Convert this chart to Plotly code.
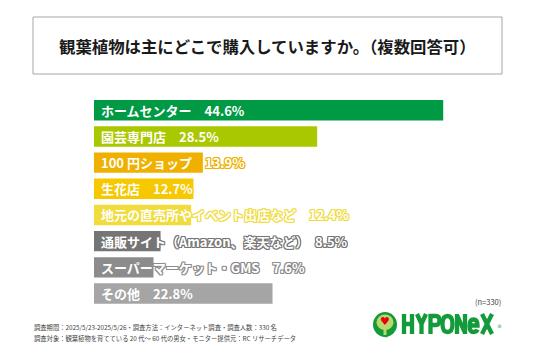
import plotly.graph_objects as go

categories = [
    "ホームセンター",
    "園芸専門店",
    "100 円ショップ",
    "生花店",
    "地元の直売所やイベント出店など",
    "通販サイト（Amazon、楽天など）",
    "スーパーマーケット・GMS",
    "その他",
]
values = [44.6, 28.5, 13.9, 12.7, 12.4, 8.5, 7.6, 22.8]
bar_colors = ["#009944", "#aac800", "#f0b000", "#f5c800", "#f0dc3c",
              "#757575", "#8c8c8c", "#a5a5a5"]

title_text = "観葉植物は主にどこで購入していますか。（複数回答可）"
n_text = "(n=330)"
note_lines = [
    "調査期間：2025/5/23-2025/5/26・調査方法：インターネット調査・調査人数：330 名",
    "調査対象：観葉植物を育てている 20 代～ 60 代の男女・モニター提供元：RC リサーチデータ",
]

# page has an 8px body margin; figure is sized to fit the window exactly
OFF = 8
W, H = 536 - 2 * OFF, 357 - 2 * OFF
def px(x):
    return (x - OFF) / W
def py(y):
    return 1 - (y - OFF) / H

JP = "Noto Sans CJK JP, Noto Sans, sans-serif"
GREEN = "#139a3a"

fig = go.Figure()
fig.add_trace(go.Bar(
    x=values, y=categories, orientation="h",
    marker=dict(color=bar_colors, line=dict(width=0)),
    hoverinfo="skip", showlegend=False,
))

def outline(c, w=1):
    parts = []
    for dx in (-w, 0, w):
        for dy in (-w, 0, w):
            if dx == 0 and dy == 0:
                continue
            parts.append(f"{dx}px {dy}px 0 {c}")
    return ", ".join(parts)

annotations = []
for cat, val, col in zip(categories, values, bar_colors):
    annotations.append(dict(
        x=0, y=cat, xref="x", yref="y", xanchor="left", yanchor="middle",
        xshift=5, showarrow=False,
        text=f"{cat}\u3000{val}%",
        font=dict(family=JP, size=13, color="white", weight="bold",
                  shadow=outline(col)),
    ))

annotations.append(dict(
    x=px(267.5), y=py(46), xref="paper", yref="paper", xanchor="center",
    yanchor="middle", showarrow=False, text=title_text,
    font=dict(family=JP, size=16.4, color="#1a1a1a", weight="bold"),
))
annotations.append(dict(
    x=px(503), y=py(301), xref="paper", yref="paper", xanchor="right",
    yanchor="middle", showarrow=False, text=n_text,
    font=dict(family=JP, size=7.5, color="#444444"),
))
for i, line in enumerate(note_lines):
    annotations.append(dict(
        x=px(32), y=py(327 + 11 * i), xref="paper", yref="paper",
        xanchor="left", yanchor="middle", showarrow=False, text=line,
        font=dict(family=JP, size=6.3, color="#444444"),
    ))
annotations.append(dict(
    x=px(499), y=py(326), xref="paper", yref="paper", xanchor="center",
    yanchor="middle", showarrow=False, text="®",
    font=dict(family="DejaVu Sans", size=5, color=GREEN),
))
annotations.append(dict(
    x=px(386), y=py(336), xref="paper", yref="paper", xanchor="center",
    yanchor="middle", showarrow=False, text="®",
    font=dict(family="DejaVu Sans", size=4, color=GREEN),
))
annotations.append(dict(
    x=px(385), y=py(321.5), xref="paper", yref="paper", xanchor="center",
    yanchor="middle", showarrow=False, text="♥",
    font=dict(family="DejaVu Sans", size=11, color="#e60012"),
))

def P(x, y):
    return f"{px(x):.5f},{py(y):.5f}"

def stroke_path(d, w=4):
    return dict(type="path", xref="paper", yref="paper", path=d,
                line=dict(color=GREEN, width=w), fillcolor="rgba(0,0,0,0)")

# logo lettering "HYPONeX" drawn as strokes
letters = [
    # H
    f"M{P(404,314)} L{P(404,334)} M{P(412,314)} L{P(412,334)} M{P(404,324)} L{P(412,324)}",
    # Y
    f"M{P(417,314)} L{P(421.5,324)} L{P(426,314)} M{P(421.5,323)} L{P(421.5,334)}",
    # P
    f"M{P(430.5,334)} L{P(430.5,316)} L{P(436,316)} Q{P(439.5,316)} {P(439.5,320.5)} Q{P(439.5,325)} {P(436,325)} L{P(430.5,325)}",
    # O
    f"M{P(447.5,316)} Q{P(452.5,316)} {P(452.5,324)} Q{P(452.5,332)} {P(447.5,332)} Q{P(442.5,332)} {P(442.5,324)} Q{P(442.5,316)} {P(447.5,316)} Z",
    # N
    f"M{P(457,334)} L{P(457,314)} M{P(457,315)} L{P(465,333)} M{P(465,314)} L{P(465,334)}",
    # e
    f"M{P(469.5,325.5)} L{P(477.5,325.5)} Q{P(477.5,319.5)} {P(473.5,319.5)} Q{P(469.5,319.5)} {P(469.5,326)} Q{P(469.5,332)} {P(473.5,332)} Q{P(476.5,332)} {P(477.5,329.5)}",
    # X
    f"M{P(482,314)} L{P(492,334)} M{P(492,314)} L{P(482,334)}",
]

shapes = [
    dict(type="rect", xref="paper", yref="paper",
         x0=px(33), x1=px(502), y0=py(74), y1=py(17),
         line=dict(color="#a6a6a6", width=1), fillcolor="rgba(0,0,0,0)"),
    dict(type="circle", xref="paper", yref="paper",
         x0=px(373), x1=px(397), y0=py(337), y1=py(312),
         line=dict(width=0), fillcolor=GREEN),
    dict(type="circle", xref="paper", yref="paper",
         x0=px(376.5), x1=px(393.5), y0=py(330), y1=py(314.5),
         line=dict(width=0), fillcolor="#b9d96a"),
    dict(type="rect", xref="paper", yref="paper",
         x0=px(383.5), x1=px(386.5), y0=py(335), y1=py(327),
         line=dict(width=0), fillcolor="#b9d96a"),
] + [stroke_path(d, 4.3) for d in letters]

fig.update_layout(
    width=W, height=H, margin=dict(l=0, r=0, t=0, b=0),
    paper_bgcolor="white", plot_bgcolor="white",
    bargap=0.22,
    xaxis=dict(domain=[px(94), px(494)], range=[0, 400 / 7.83],
               visible=False, fixedrange=True),
    yaxis=dict(domain=[py(306.6), py(97.2)], range=[7.5, -0.5],
               visible=False, fixedrange=True, categoryorder="array",
               categoryarray=categories),
    annotations=annotations, shapes=shapes,
    showlegend=False,
)

fig.write_html("out.html")
